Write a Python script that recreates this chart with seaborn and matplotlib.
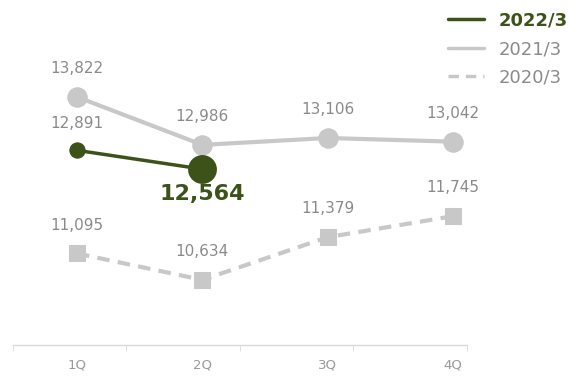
import matplotlib
matplotlib.use("Agg")
import matplotlib.pyplot as plt
import seaborn as sns
import pandas as pd
from matplotlib.lines import Line2D

quarters = ["1Q", "2Q", "3Q", "4Q"]
fy2022 = [12891, 12564]
fy2021 = [13822, 12986, 13106, 13042]
fy2020 = [11095, 10634, 11379, 11745]
series_names = ["2022/3", "2021/3", "2020/3"]

green = "#3d5219"
gray = "#c8c8c8"
label_gray = "#8a8a8a"

sns.set_style("white")
plt.rcParams["font.family"] = ["DejaVu Sans"]

fig = plt.figure(figsize=(5.77, 3.77), dpi=100)
ax = fig.add_axes([13 / 577, 32 / 377, (467 - 13) / 577, 345 / 377])

df20 = pd.DataFrame({"x": range(4), "y": fy2020})
df21 = pd.DataFrame({"x": range(4), "y": fy2021})
df22 = pd.DataFrame({"x": range(2), "y": fy2022})

sns.lineplot(data=df20, x="x", y="y", ax=ax, color=gray, lw=3, marker="s",
             markersize=11.5, markeredgecolor=gray, dashes=False,
             linestyle=(0, (3, 2)), zorder=2)
sns.lineplot(data=df21, x="x", y="y", ax=ax, color=gray, lw=3, marker="o",
             markersize=14, markeredgecolor=gray, zorder=3)
sns.lineplot(data=df22, x="x", y="y", ax=ax, color=green, lw=2.5, marker="o",
             markersize=11, markeredgecolor=green, zorder=4)
sns.scatterplot(x=[1], y=[fy2022[1]], ax=ax, color=green, s=370,
                edgecolor=green, zorder=5)

# value labels
for i, v in enumerate(fy2021):
    ax.annotate(f"{v:,}", (i, v), xytext=(0, 15), textcoords="offset points",
                ha="center", va="bottom", fontsize=11, color=label_gray)
for i, v in enumerate(fy2020):
    ax.annotate(f"{v:,}", (i, v), xytext=(0, 15), textcoords="offset points",
                ha="center", va="bottom", fontsize=11, color=label_gray)
ax.annotate(f"{fy2022[0]:,}", (0, fy2022[0]), xytext=(0, 14),
            textcoords="offset points", ha="center", va="bottom",
            fontsize=11, color=label_gray)
ax.annotate(f"{fy2022[1]:,}", (1, fy2022[1]), xytext=(0, -11),
            textcoords="offset points", ha="center", va="top",
            fontsize=16, fontweight="bold", color=green)

ax.set_xlim(-0.51, 3.11)
ax.set_ylim(9500, 15510)
ax.set_xticks(range(4))
ax.set_xticklabels(quarters, fontsize=9.5, color="#999999")
ax.set_xticks([-0.51, 0.39, 1.30, 2.20, 3.11], minor=True)
ax.tick_params(axis="x", which="major", length=0, pad=10)
ax.tick_params(axis="x", which="minor", length=4, color="#d9d9d9", bottom=True)
ax.set_yticks([])
ax.set_xlabel("")
ax.set_ylabel("")
for s in ["top", "right", "left"]:
    ax.spines[s].set_visible(False)
ax.spines["bottom"].set_color("#d9d9d9")
ax.spines["bottom"].set_linewidth(1)

handles = [
    Line2D([], [], color=green, lw=2.5),
    Line2D([], [], color=gray, lw=2.5),
    Line2D([], [], color=gray, lw=2.5, linestyle=(0, (3, 2))),
]
leg = fig.legend(handles, series_names, loc="upper right",
                 bbox_to_anchor=(1.012, 1.012), frameon=False, fontsize=13,
                 handlelength=2.0, handletextpad=0.8, labelspacing=0.58)
for t, c in zip(leg.get_texts(), [green, label_gray, label_gray]):
    t.set_color(c)
leg.get_texts()[0].set_fontweight("bold")

fig.savefig("out.png", dpi=100)
